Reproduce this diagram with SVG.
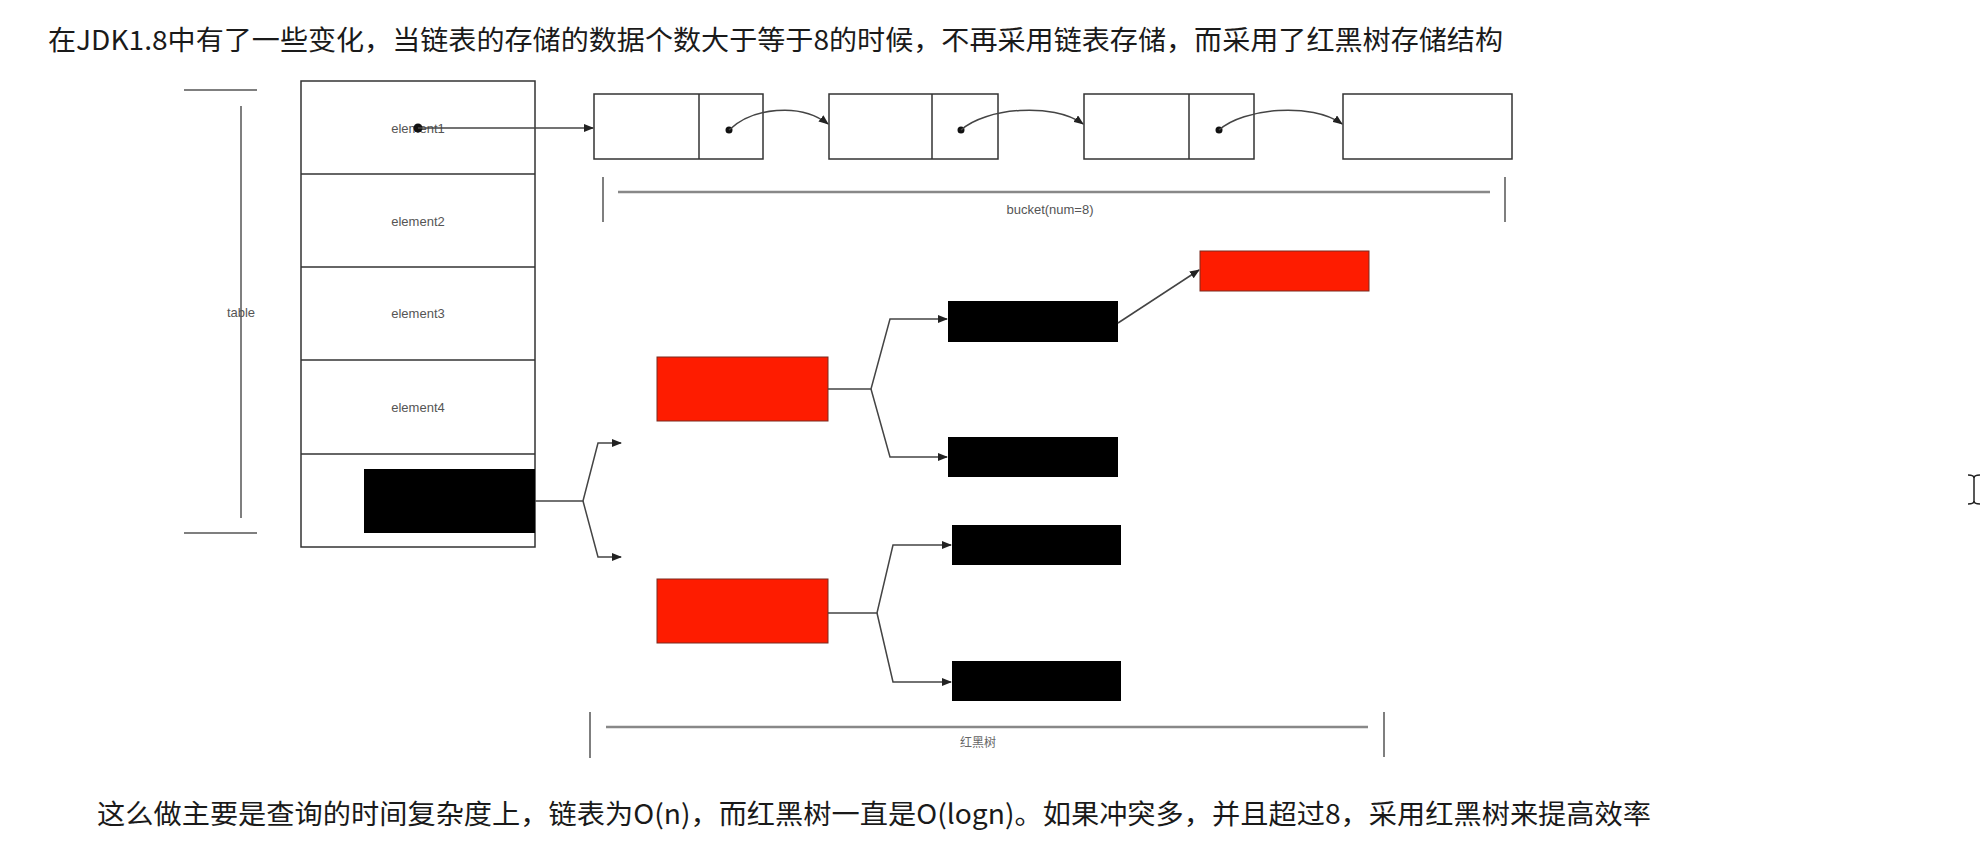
<svg xmlns="http://www.w3.org/2000/svg" width="1982" height="854" viewBox="0 0 1982 854">
  <defs>
    <style>
      .title { font-family: "Noto Sans CJK SC", "Liberation Sans", sans-serif; font-size: 27px; fill: #1a1a1a; }
      .lbl { font-family: "Liberation Sans", "DejaVu Sans", sans-serif; font-size: 13px; fill: #555; text-anchor: middle; }
      .lblcjk { font-family: "Noto Sans CJK SC", sans-serif; font-size: 12px; fill: #666; text-anchor: middle; }
      .box { fill: #fff; stroke: #333; stroke-width: 1.5; }
      .div { stroke: #333; stroke-width: 1.5; }
      .con { fill: none; stroke: #444; stroke-width: 1.5; }
      .brk { stroke: #555; stroke-width: 1.5; }
      .brkh { stroke: #888; stroke-width: 2.5; }
      .red { fill: #fe1c00; stroke: #7a2a1e; stroke-width: 1; }
      .blk { fill: #000; }
    </style>
    <marker id="arr" markerWidth="10" markerHeight="8" refX="9" refY="4" orient="auto" markerUnits="userSpaceOnUse">
      <path d="M0,0 L10,4 L0,8 Z" fill="#222"/>
    </marker>
  </defs>
  <rect width="1982" height="854" fill="#fff"/>

  <text class="title" x="48" y="50" textLength="1455" lengthAdjust="spacingAndGlyphs">在JDK1.8中有了一些变化，当链表的存储的数据个数大于等于8的时候，不再采用链表存储，而采用了红黑树存储结构</text>

  <g id="table-bracket">
    <line class="brk" x1="184" y1="90" x2="257" y2="90"/>
    <line class="brk" x1="241" y1="106" x2="241" y2="518"/>
    <line class="brk" x1="184" y1="533" x2="257" y2="533"/>
    <text class="lbl" x="241" y="317">table</text>
  </g>

  <g id="table">
    <rect class="box" x="301" y="81" width="234" height="466"/>
    <line class="div" x1="301" y1="174" x2="535" y2="174"/>
    <line class="div" x1="301" y1="267" x2="535" y2="267"/>
    <line class="div" x1="301" y1="360" x2="535" y2="360"/>
    <line class="div" x1="301" y1="454" x2="535" y2="454"/>
    <text class="lbl" x="418" y="133">element1</text>
    <text class="lbl" x="418" y="226">element2</text>
    <text class="lbl" x="418" y="318">element3</text>
    <text class="lbl" x="418" y="412">element4</text>
  </g>

  <g id="tree-root">
    <rect class="blk" x="364" y="469" width="171" height="64"/>
  </g>

  <g id="list-node-1">
    <rect class="box" x="594" y="94" width="169" height="65"/>
    <line class="div" x1="699" y1="94" x2="699" y2="159"/>
  </g>
  <g id="list-node-2">
    <rect class="box" x="829" y="94" width="169" height="65"/>
    <line class="div" x1="932" y1="94" x2="932" y2="159"/>
  </g>
  <g id="list-node-3">
    <rect class="box" x="1084" y="94" width="170" height="65"/>
    <line class="div" x1="1189" y1="94" x2="1189" y2="159"/>
  </g>
  <g id="list-node-4">
    <rect class="box" x="1343" y="94" width="169" height="65"/>
  </g>

  <g id="bucket-bracket">
    <line class="brk" x1="603" y1="177" x2="603" y2="222"/>
    <line class="brkh" x1="618" y1="192" x2="1490" y2="192"/>
    <line class="brk" x1="1505" y1="177" x2="1505" y2="222"/>
    <text class="lbl" x="1050" y="214">bucket(num=8)</text>
  </g>

  <g id="red-1"><rect class="red" x="657" y="357" width="171" height="64"/></g>
  <g id="black-a"><rect class="blk" x="948" y="301" width="170" height="41"/></g>
  <g id="black-b"><rect class="blk" x="948" y="437" width="170" height="40"/></g>
  <g id="red-top"><rect class="red" x="1200" y="251" width="169" height="40"/></g>
  <g id="red-2"><rect class="red" x="657" y="579" width="171" height="64"/></g>
  <g id="black-c"><rect class="blk" x="952" y="525" width="169" height="40"/></g>
  <g id="black-d"><rect class="blk" x="952" y="661" width="169" height="40"/></g>

  <g id="rbtree-bracket">
    <line class="brk" x1="590" y1="712" x2="590" y2="758"/>
    <line class="brkh" x1="606" y1="727" x2="1368" y2="727"/>
    <line class="brk" x1="1384" y1="712" x2="1384" y2="757"/>
    <text class="lblcjk" x="978" y="747">红黑树</text>
  </g>

  <g id="connectors">
    <circle cx="418" cy="128" r="4.5" fill="#111"/>
    <line class="con" x1="418" y1="128" x2="593" y2="128" marker-end="url(#arr)"/>
    <circle cx="729" cy="130" r="3.5" fill="#111"/>
    <path class="con" d="M729,130 C752,108 800,102 828,124" marker-end="url(#arr)"/>
    <circle cx="961" cy="130" r="3.5" fill="#111"/>
    <path class="con" d="M961,130 C985,108 1053,102 1083,124" marker-end="url(#arr)"/>
    <circle cx="1219" cy="130" r="3.5" fill="#111"/>
    <path class="con" d="M1219,130 C1243,108 1312,102 1342,124" marker-end="url(#arr)"/>

    <path class="con" d="M535,501 H583 L598,443 H621" marker-end="url(#arr)"/>
    <path class="con" d="M583,501 L598,557 H621" marker-end="url(#arr)"/>

    <path class="con" d="M828,389 H871 L890,319 H947" marker-end="url(#arr)"/>
    <path class="con" d="M871,389 L890,457 H947" marker-end="url(#arr)"/>
    <path class="con" d="M1118,323 L1199,270" marker-end="url(#arr)"/>

    <path class="con" d="M828,613 H877 L893,545 H951" marker-end="url(#arr)"/>
    <path class="con" d="M877,613 L893,682 H951" marker-end="url(#arr)"/>
  </g>

  <text class="title" x="97" y="824" textLength="1554" lengthAdjust="spacingAndGlyphs">这么做主要是查询的时间复杂度上，链表为O(n)，而红黑树一直是O(logn)。如果冲突多，并且超过8，采用红黑树来提高效率</text>

  <g id="cursor" stroke="#222" stroke-width="1.5" fill="none">
    <line x1="1974" y1="476" x2="1974" y2="503"/>
    <path d="M1968,475 Q1974,475 1974,478 Q1974,475 1980,475"/>
    <path d="M1968,504 Q1974,504 1974,501 Q1974,504 1980,504"/>
  </g>
</svg>
